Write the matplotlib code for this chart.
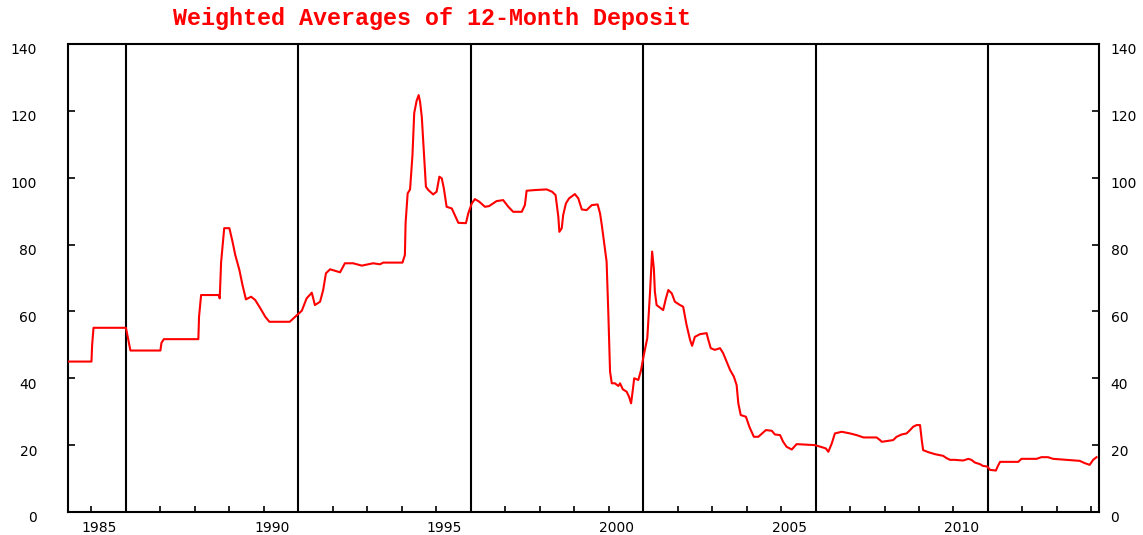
"""
Weighted averages of 12-month deposit, 1984-2014.
"""

import numpy as np
import matplotlib
matplotlib.use("Agg")
import matplotlib.pyplot as plt
import matplotlib.transforms as mtransforms

# ── data ──────────────────────────────────────────────────────────────────────
years = [
    1984.31, 1985.00, 1985.02, 1985.06, 1986.00, 1986.03, 1986.13, 1987.00,
    1987.03, 1987.10, 1988.10, 1988.12, 1988.18, 1988.69, 1988.72, 1988.76,
    1988.85, 1989.00, 1989.09, 1989.17, 1989.29, 1989.38, 1989.48, 1989.63,
    1989.75, 1989.90, 1990.04, 1990.16, 1990.75, 1990.96, 1991.10, 1991.24,
    1991.39, 1991.48, 1991.63, 1991.72, 1991.80, 1991.92, 1992.21, 1992.35,
    1992.59, 1992.84, 1993.17, 1993.37, 1993.46, 1994.02, 1994.09, 1994.11,
    1994.17, 1994.24, 1994.31, 1994.36, 1994.43, 1994.49, 1994.53, 1994.58,
    1994.65, 1994.70, 1994.77, 1994.91, 1995.01, 1995.09, 1995.16, 1995.22,
    1995.30, 1995.45, 1995.54, 1995.64, 1995.86, 1995.93, 1996.03, 1996.12,
    1996.25, 1996.41, 1996.53, 1996.75, 1996.94, 1997.09, 1997.23, 1997.48,
    1997.57, 1997.62, 1997.86, 1998.20, 1998.36, 1998.46, 1998.49, 1998.54,
    1998.57, 1998.64, 1998.68, 1998.76, 1998.85, 1999.02, 1999.12, 1999.22,
    1999.36, 1999.51, 1999.68, 1999.75, 1999.80, 1999.87, 1999.94, 1999.99,
    2000.04, 2000.09, 2000.18, 2000.28, 2000.33, 2000.41, 2000.52, 2000.59,
    2000.65, 2000.70, 2000.74, 2000.86, 2000.94, 2001.02, 2001.12, 2001.20,
    2001.26, 2001.31, 2001.34, 2001.39, 2001.58, 2001.66, 2001.73, 2001.83,
    2001.92, 2002.07, 2002.16, 2002.26, 2002.36, 2002.42, 2002.50, 2002.65,
    2002.84, 2002.89, 2002.96, 2003.08, 2003.23, 2003.32, 2003.44, 2003.52,
    2003.63, 2003.71, 2003.76, 2003.83, 2003.98, 2004.08, 2004.21, 2004.34,
    2004.56, 2004.73, 2004.82, 2004.97, 2005.06, 2005.16, 2005.31, 2005.45,
    2005.98, 2006.18, 2006.30, 2006.37, 2006.47, 2006.56, 2006.76, 2007.00,
    2007.19, 2007.39, 2007.77, 2007.87, 2007.92, 2008.25, 2008.35, 2008.50,
    2008.64, 2008.74, 2008.83, 2008.93, 2009.03, 2009.08, 2009.12, 2009.27,
    2009.46, 2009.70, 2009.80, 2009.90, 2010.04, 2010.28, 2010.43, 2010.52,
    2010.62, 2010.77, 2010.85, 2010.98, 2011.06, 2011.23, 2011.28, 2011.35,
    2011.88, 2011.97, 2012.41, 2012.55, 2012.74, 2012.89, 2013.28, 2013.66,
    2013.81, 2013.95, 2014.05, 2014.15,
]
rates = [
    45.0, 45.0, 50.0, 55.1, 55.1, 53.5, 48.3, 48.3,
    50.6, 51.7, 51.7, 58.4, 64.9, 64.9, 63.9, 74.7,
    84.9, 84.9, 80.9, 76.9, 72.4, 67.9, 63.6, 64.4,
    63.4, 60.9, 58.4, 56.9, 56.9, 58.9, 60.2, 63.9,
    65.6, 61.9, 62.9, 66.4, 71.4, 72.6, 71.7, 74.4,
    74.4, 73.7, 74.4, 74.1, 74.6, 74.6, 76.9, 86.4,
    95.3, 96.5, 106.8, 119.3, 123.0, 124.7, 122.7, 118.2,
    106.3, 97.3, 96.3, 95.0, 95.8, 100.3, 99.8, 96.8,
    91.3, 90.8, 88.8, 86.5, 86.4, 89.4, 92.3, 93.6,
    92.8, 91.3, 91.5, 93.0, 93.3, 91.3, 89.8, 89.8,
    91.8, 96.1, 96.3, 96.5, 95.8, 94.8, 92.3, 88.3,
    83.8, 84.9, 88.8, 92.3, 93.8, 95.1, 93.8, 90.5,
    90.3, 91.8, 92.0, 89.3, 85.9, 80.4, 74.9, 59.4,
    42.0, 38.5, 38.5, 37.7, 38.5, 36.7, 36.0, 34.5,
    32.5, 36.5, 40.0, 39.5, 42.5, 47.0, 52.0, 65.9,
    77.9, 72.9, 65.9, 61.9, 60.4, 63.9, 66.4, 65.4,
    62.9, 61.9, 61.4, 55.9, 51.5, 49.7, 52.4, 53.2,
    53.5, 51.5, 49.0, 48.5, 49.0, 47.5, 44.5, 42.5,
    40.5, 38.0, 32.5, 29.0, 28.5, 25.5, 22.5, 22.5,
    24.5, 24.3, 23.2, 23.0, 21.0, 19.5, 18.7, 20.3,
    20.0, 19.4, 19.0, 18.0, 20.5, 23.5, 24.0, 23.5,
    23.0, 22.3, 22.3, 21.5, 21.0, 21.5, 22.5, 23.2,
    23.5, 24.5, 25.5, 26.0, 26.0, 21.5, 18.5, 17.9,
    17.3, 16.8, 16.1, 15.6, 15.6, 15.4, 15.9, 15.6,
    14.8, 14.3, 13.8, 13.6, 12.6, 12.4, 13.6, 15.0,
    15.0, 15.9, 15.9, 16.4, 16.4, 15.9, 15.6, 15.3,
    14.6, 14.1, 15.6, 16.4,
]

divider_years = [1986, 1991, 1996, 2001, 2006, 2011]
year_ticks = list(range(1985, 2015))
label_years = [1985, 1990, 1995, 2000, 2005, 2010]
y_ticks = [0, 20, 40, 60, 80, 100, 120, 140]
title = "Weighted Averages of 12-Month Deposit"


def main():
    fig = plt.figure(figsize=(11.43, 5.35), dpi=100)
    ax = fig.add_axes([0.0592, 0.043, 0.9023, 0.8748])

    ax.plot(years, rates, color="#ff0000", linewidth=1.5, zorder=3)

    for yr in divider_years:
        ax.axvline(yr, color="black", linewidth=1.5, zorder=2)

    ax.set_xlim(1984.31, 2014.22)
    ax.set_ylim(0, 140)

    for side in ["left", "right", "top", "bottom"]:
        ax.spines[side].set_linewidth(1.5)
        ax.spines[side].set_color("black")

    # x ticks every year, labels only every 5 years (shifted a bit right)
    ax.set_xticks(year_ticks)
    ax.set_xticklabels([str(y) if y in label_years else "" for y in year_ticks])
    ax.tick_params(axis="x", direction="in", length=4, width=1.2, pad=6.5,
                   labelsize=10, top=False)

    ax.set_yticks(y_ticks)
    ax.set_yticklabels([str(v) for v in y_ticks])
    ax.tick_params(axis="y", direction="in", length=5, width=1.2, pad=22,
                   left=True, right=True, labelleft=True, labelright=True,
                   labelsize=10)

    fig.canvas.draw()
    dy = mtransforms.ScaledTranslation(0, -5 / 100, fig.dpi_scale_trans)
    d_right = mtransforms.ScaledTranslation(-19 / 100, -5 / 100, fig.dpi_scale_trans)
    dx = mtransforms.ScaledTranslation(8 / 100, 0, fig.dpi_scale_trans)
    for tick in ax.yaxis.get_major_ticks():
        tick.label1.set_transform(tick.label1.get_transform() + dy)
        tick.label2.set_transform(tick.label2.get_transform() + d_right)
    for lab in ax.get_xticklabels():
        lab.set_transform(lab.get_transform() + dx)

    fig.text(173 / 1143, 1 - 19 / 535, title, color="#ff0000",
             family="Liberation Mono", fontweight="bold", fontsize=16.8,
             ha="left", va="center")

    fig.savefig("out.png", dpi=100)


if __name__ == "__main__":
    main()
